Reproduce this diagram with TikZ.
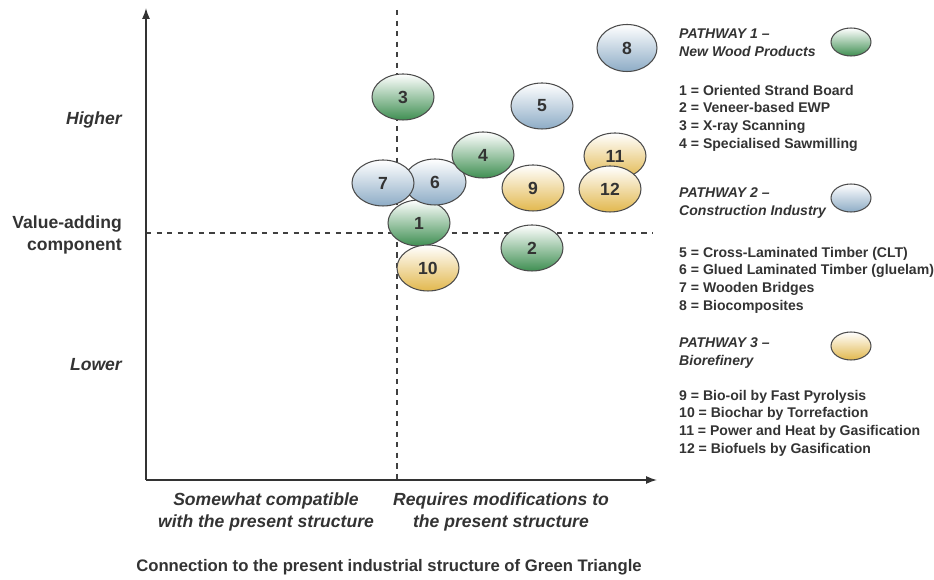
\documentclass[tikz,border=0pt]{standalone}
\usepackage{fontspec}
\setmainfont{Liberation Sans}
\usepackage{tikz}
\usetikzlibrary{arrows.meta,shapes.geometric}
\definecolor{gtgreen}{HTML}{3F8F52}
\definecolor{gtblue}{HTML}{9DBFDC}
\definecolor{gtyellow}{HTML}{E2B84E}
\definecolor{gtink}{HTML}{333333}

\begin{document}
\begin{tikzpicture}[
    x=0.02cm,
    y=-0.02cm,
    text=gtink,
    bub/.style={ellipse, draw=black!70, semithick, minimum width=1.24cm, minimum height=0.92cm, inner sep=0pt, font=\bfseries\fontsize{10}{12}\selectfont},
    pwgreen/.style={bub, top color=white, middle color=gtgreen!35!white, bottom color=gtgreen},
    pwblue/.style={bub, top color=white, middle color=gtblue!60!white, bottom color=gtblue!90!black},
    pwyellow/.style={bub, top color=white, middle color=white!80!gtyellow, bottom color=gtyellow},
    key/.style={minimum width=0.8cm, minimum height=0.56cm},
    axis/.style={-{Latex[length=2.2mm,width=1.6mm]}, thick, draw=black!80},
    split/.style={dashed, semithick, draw=black!75},
    axlab/.style={font=\bfseries\itshape\fontsize{10}{12}\selectfont},
    head/.style={anchor=west, align=left, font=\bfseries\itshape\fontsize{8}{10}\selectfont},
    items/.style={anchor=north west, align=left, font=\bfseries\fontsize{8}{10}\selectfont}
  ]
    \useasboundingbox (0,0) rectangle (934,580);

    % axes and quadrant lines
    \coordinate (origin) at (146,480);
    \coordinate (ytop) at (146,8);
    \coordinate (xend) at (657,480);
    \coordinate (vtop) at (397,10);
    \coordinate (vbot) at (397,480);
    \coordinate (hleft) at (146,233);
    \coordinate (hright) at (653,233);
    \draw[split] (vtop) -- (vbot);
    \draw[split] (hleft) -- (hright);
    \draw[axis] (origin) -- (ytop);
    \draw[axis] (origin) -- (xend);

    % bubbles
    \node[pwgreen] (b3) at (403,97) {3};
    \node[pwblue] (b5) at (542,106) {5};
    \node[pwblue, minimum width=1.2cm, minimum height=0.94cm] (b8) at (627,48) {8};
    \node[pwyellow] (b11) at (615,156) {11};
    \node[pwyellow] (b12) at (610,189) {12};
    \node[pwgreen] (b1) at (419,223) {1};
    \node[pwyellow] (b10) at (428,268) {10};
    \node[pwgreen] (b2) at (532,248) {2};
    \node[pwblue] (b6) at (435,182) {6};
    \node[pwblue] (b7) at (383,183) {7};
    \node[pwgreen] (b4) at (483,155) {4};
    \node[pwyellow] (b9) at (533,188) {9};

    % axis labels
    \node[axlab, anchor=east] (high) at (128,120) {Higher};
    \node[anchor=east, align=right, font=\bfseries\fontsize{10}{12.5}\selectfont] (value) at (128,235) {Value-adding\\component};
    \node[axlab, anchor=east] (low) at (128,365) {Lower};
    \node[axlab, align=center] (compat) at (266,512) {Somewhat compatible\\with the present structure};
    \node[axlab, align=center] (modif) at (501,512) {Requires modifications to\\the present structure};
    \node[font=\bfseries\fontsize{9.5}{12}\selectfont] (caption) at (389,567) {Connection to the present industrial structure of Green Triangle};

    % legend
    \node[head] (p1) at (673,43) {PATHWAY 1 --\\New Wood Products};
    \node[pwgreen, key] (k1) at (851,42) {};
    \node[items] (l1) at (673,79) {1 = Oriented Strand Board\\2 = Veneer-based EWP\\3 = X-ray Scanning\\4 = Specialised Sawmilling};
    \node[head] (p2) at (673,203) {PATHWAY 2 --\\Construction Industry};
    \node[pwblue, key] (k2) at (851,198) {};
    \node[items] (l2) at (673,241) {5 = Cross-Laminated Timber (CLT)\\6 = Glued Laminated Timber (gluelam)\\7 = Wooden Bridges\\8 = Biocomposites};
    \node[head] (p3) at (673,353) {PATHWAY 3 --\\Biorefinery};
    \node[pwyellow, key] (k3) at (851,346) {};
    \node[items] (l3) at (673,384) {9 = Bio-oil by Fast Pyrolysis\\10 = Biochar by Torrefaction\\11 = Power and Heat by Gasification\\12 = Biofuels by Gasification};
\end{tikzpicture}
\end{document}
